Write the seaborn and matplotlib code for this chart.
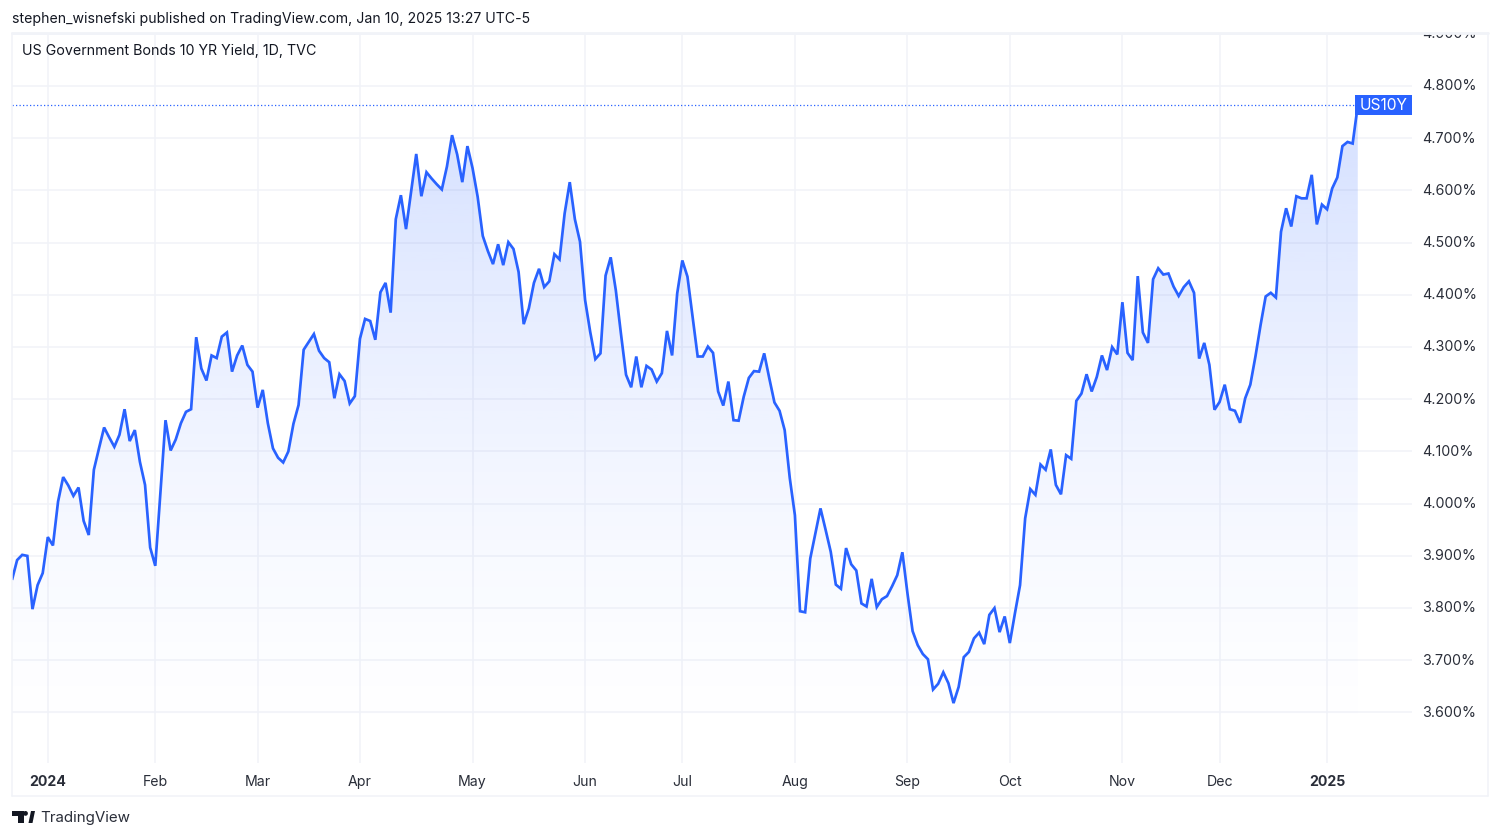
import numpy as np
import pandas as pd
import seaborn as sns
import matplotlib
matplotlib.use("Agg")
import matplotlib.pyplot as plt
from matplotlib.lines import Line2D
from matplotlib.patches import Rectangle, Polygon
from matplotlib.transforms import Bbox, ScaledTranslation

yields = [
3.854,3.892,3.902,3.900,3.798,3.844,3.867,3.936,3.920,4.004,
4.051,4.035,4.015,4.031,3.967,3.940,4.065,4.106,4.146,4.127,
4.109,4.132,4.181,4.120,4.141,4.080,4.036,3.916,3.881,4.020,
4.160,4.102,4.123,4.154,4.176,4.181,4.319,4.259,4.236,4.284,
4.279,4.320,4.328,4.253,4.284,4.303,4.266,4.253,4.184,4.218,
4.154,4.106,4.088,4.079,4.100,4.153,4.189,4.295,4.310,4.325,
4.293,4.279,4.271,4.202,4.248,4.235,4.192,4.206,4.316,4.354,
4.350,4.314,4.405,4.423,4.366,4.545,4.591,4.526,4.598,4.670,
4.589,4.635,4.623,4.612,4.602,4.646,4.706,4.669,4.616,4.685,
4.643,4.588,4.513,4.484,4.459,4.497,4.457,4.501,4.488,4.444,
4.344,4.374,4.423,4.450,4.415,4.426,4.478,4.468,4.556,4.616,
4.545,4.502,4.390,4.329,4.277,4.288,4.437,4.472,4.409,4.326,
4.247,4.223,4.282,4.223,4.264,4.257,4.234,4.250,4.331,4.284,
4.403,4.466,4.435,4.358,4.282,4.282,4.301,4.289,4.215,4.188,
4.234,4.160,4.159,4.205,4.241,4.254,4.253,4.288,4.240,4.194,
4.178,4.141,4.049,3.978,3.794,3.792,3.895,3.943,3.991,3.950,
3.908,3.845,3.837,3.915,3.884,3.872,3.809,3.803,3.856,3.802,
3.817,3.823,3.842,3.863,3.907,3.828,3.756,3.729,3.712,3.702,
3.644,3.655,3.677,3.656,3.618,3.649,3.706,3.716,3.742,3.753,
3.731,3.787,3.800,3.754,3.784,3.733,3.790,3.844,3.972,4.028,
4.017,4.075,4.065,4.104,4.036,4.018,4.093,4.086,4.197,4.211,
4.248,4.215,4.243,4.284,4.256,4.300,4.286,4.386,4.289,4.275,
4.436,4.328,4.308,4.430,4.451,4.439,4.441,4.416,4.398,4.415,
4.426,4.404,4.278,4.308,4.266,4.180,4.195,4.228,4.181,4.178,
4.155,4.202,4.228,4.282,4.342,4.397,4.404,4.395,4.521,4.566,
4.531,4.589,4.585,4.585,4.630,4.535,4.573,4.564,4.604,4.625,
4.685,4.693,4.690,4.763,
]
tick_bars = [7, 28, 48, 68, 90, 112, 131, 153, 175, 195, 217, 236, 257]
tick_names = ["2024", "Feb", "Mar", "Apr", "May", "Jun", "Jul", "Aug", "Sep", "Oct", "Nov", "Dec", "2025"]
y_ticks = [3.6, 3.7, 3.8, 3.9, 4.0, 4.1, 4.2, 4.3, 4.4, 4.5, 4.6, 4.7, 4.8, 4.9]
header = "stephen_wisnefski published on TradingView.com, Jan 10, 2025 13:27 UTC-5"
title = "US Government Bonds 10 YR Yield, 1D, TVC"
symbol = "US10Y"

BLUE = "#2962ff"
GRID = "#f1f3f8"
INK = "#2a2e39"

sns.set_theme(style="white")
plt.rcParams["font.family"] = ["Inter", "DejaVu Sans"]

W, H = 1500, 838
fig = plt.figure(figsize=(15, 8.38), dpi=100, facecolor="white")
L, R, T, B = 12, 1412, 33, 763
ax = fig.add_axes([L / W, 1 - B / H, (R - L) / W, (B - T) / H])
ax.set_facecolor("white")

df = pd.DataFrame({"bar": np.arange(len(yields)), "yield": yields})

x_max = (R - L) / 5.117
y_low, y_high = 4.96494 - B / 522, 4.96494 - T / 522

# gradient area beneath the line
poly = ax.fill_between(df["bar"], df["yield"], y_low, color="none", lw=0)
ramp = np.linspace(1, 0, 256)[:, None] ** 1.5
rgba = np.zeros((256, 1, 4))
rgba[..., :3] = matplotlib.colors.to_rgb(BLUE)
rgba[..., 3] = 0.20 * ramp
im = ax.imshow(rgba, extent=[0, len(yields) - 1, y_low, df["yield"].max()],
               aspect="auto", origin="upper", zorder=1.5, interpolation="bilinear")
im.set_clip_path(poly.get_paths()[0], transform=ax.transData)

sns.lineplot(data=df, x="bar", y="yield", ax=ax, color=BLUE, linewidth=1.95,
             errorbar=None, zorder=3, solid_joinstyle="miter", solid_capstyle="butt")
ax.axhline(yields[-1], xmin=0, xmax=(len(yields) - 1) / x_max, color=BLUE, lw=0.9,
           ls=(0, (1, 1.8)), zorder=2)

ax.set_xlim(0, x_max)
ax.set_ylim(y_low, y_high)
ax.set_xlabel("")
ax.set_ylabel("")
ax.set_xticks(tick_bars)
ax.set_xticklabels(tick_names)
ax.set_yticks(y_ticks)
ax.set_yticklabels([f"{v:.3f}%" for v in y_ticks])
ax.yaxis.tick_right()
ax.grid(True, color=GRID, lw=1.1, zorder=0)
ax.set_axisbelow(True)
for s in ax.spines.values():
    s.set_visible(False)
ax.tick_params(axis="x", length=0, pad=8.8, labelsize=10.2, labelcolor=INK)
ax.tick_params(axis="y", length=0, pad=7.4, labelsize=10.3, labelcolor=INK, right=False, labelright=True)
for lab in ax.get_xticklabels():
    if lab.get_text() in ("2024", "2025"):
        lab.set_fontweight("bold")
clip = Bbox([[0, (H - 796)], [W, H - T]])
up = ScaledTranslation(0, 0.8 / 72, fig.dpi_scale_trans)
for lab in ax.get_yticklabels():
    lab.set_transform(lab.get_transform() + up)
    lab.set_clip_box(clip)
    lab.set_clip_on(True)


def px(x, y):
    return x / W, 1 - y / H


# chart frame
for a, b, lw in [((12, 33.5), (1488, 33.5), 2.0), ((12, 33), (12, 796), 1.1),
                 ((12, 796), (1488, 796), 1.1), ((1488, 33), (1488, 796), 1.1)]:
    fig.add_artist(Line2D(*zip(px(*a), px(*b)), transform=fig.transFigure, color=GRID, lw=lw))

# last-value badge
fig.add_artist(Rectangle(px(1355, 115.5), 57 / W, 20.5 / H, transform=fig.transFigure,
                         facecolor=BLUE, edgecolor="none", zorder=5))
fig.text(*px(1383.5, 105.5), symbol, color="white", fontsize=11.2, ha="center", va="center", zorder=6)

# texts
fig.text(*px(12, 18.5), header, color="#131722", fontsize=10.16, ha="left", va="center")
fig.text(*px(22, 51), title, color="#131722", fontsize=10.25, ha="left", va="center")
fig.text(*px(40, 817.5), "TradingView", color="#2a2e39", fontsize=10.9, ha="left", va="center")

# logo
black = "#131722"
for pts in ([(12, 811), (24, 811), (24, 823), (18, 823), (18, 816), (12, 816)],
            [(28.5, 823), (31, 811), (35, 811), (32.5, 823)]):
    fig.add_artist(Polygon([px(*p) for p in pts], closed=True, transform=fig.transFigure,
                           facecolor=black, edgecolor="none"))
fig.add_artist(Polygon([px(25.5 + 2.4 * np.cos(t), 813.4 + 2.4 * np.sin(t)) for t in np.linspace(0, 6.28, 24)],
                       closed=True, transform=fig.transFigure, facecolor=black, edgecolor="none"))

fig.savefig("out.png", dpi=100, facecolor="white")
